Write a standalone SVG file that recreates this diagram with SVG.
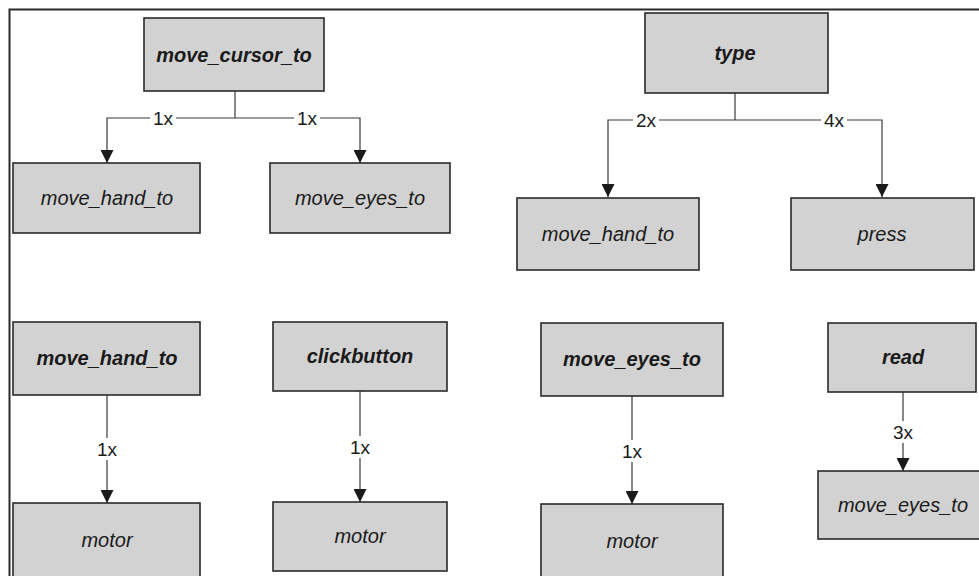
<svg xmlns="http://www.w3.org/2000/svg" width="979" height="576" viewBox="0 0 979 576">
<style>
.box{fill:#d2d2d2;stroke:#2a2a2a;stroke-width:1.6}
.t{font-family:"Liberation Sans",Arial,sans-serif;font-size:20px;font-style:italic;fill:#1a1a1a;text-anchor:middle}
.b{font-weight:bold}
.con{fill:none;stroke:#3a3a3a;stroke-width:1.2}
.lbl{font-family:"Liberation Sans",Arial,sans-serif;font-size:19px;fill:#1a1a1a;text-anchor:middle}
.bg{fill:#ffffff}
</style>
<defs>
<marker id="arr" viewBox="0 0 10 10" refX="10" refY="5" markerWidth="14" markerHeight="13" markerUnits="userSpaceOnUse" orient="auto">
<path d="M0,0 L10,5 L0,10 z" fill="#1a1a1a"/>
</marker>
</defs>
<rect x="0" y="0" width="979" height="576" fill="#ffffff"/>
<path d="M9.5,580 V9.5 H985" fill="none" stroke="#2a2a2a" stroke-width="2"/>

<g id="connectors">
<path class="con" d="M235,91 V118"/>
<path class="con" d="M235,118 H107 V163" marker-end="url(#arr)"/>
<path class="con" d="M235,118 H360 V163" marker-end="url(#arr)"/>
<path class="con" d="M735,93 V120"/>
<path class="con" d="M735,120 H608 V197" marker-end="url(#arr)"/>
<path class="con" d="M735,120 H882 V197" marker-end="url(#arr)"/>
<path class="con" d="M107,395 V503" marker-end="url(#arr)"/>
<path class="con" d="M360,391 V502" marker-end="url(#arr)"/>
<path class="con" d="M632,396 V504" marker-end="url(#arr)"/>
<path class="con" d="M903,392 V471" marker-end="url(#arr)"/>
<rect class="bg" x="150" y="110" width="26" height="16"/>
<text class="lbl" x="163" y="125">1x</text>
<rect class="bg" x="294" y="110" width="26" height="16"/>
<text class="lbl" x="307" y="125">1x</text>
<rect class="bg" x="633" y="112" width="26" height="16"/>
<text class="lbl" x="646" y="127">2x</text>
<rect class="bg" x="821" y="112" width="26" height="16"/>
<text class="lbl" x="834" y="127">4x</text>
<rect class="bg" x="94" y="438" width="26" height="22"/>
<text class="lbl" x="107" y="456">1x</text>
<rect class="bg" x="347" y="436" width="26" height="22"/>
<text class="lbl" x="360" y="454">1x</text>
<rect class="bg" x="619" y="440" width="26" height="22"/>
<text class="lbl" x="632" y="458">1x</text>
<rect class="bg" x="890" y="421" width="26" height="22"/>
<text class="lbl" x="903" y="439">3x</text>
</g>

<g id="n_move_cursor_to"><rect class="box" x="144" y="18" width="180" height="73"/><text class="t b" x="234" y="62">move_cursor_to</text></g>
<g id="n_move_hand_to_1"><rect class="box" x="13" y="163" width="187" height="70"/><text class="t" x="107" y="205">move_hand_to</text></g>
<g id="n_move_eyes_to_1"><rect class="box" x="270" y="163" width="180" height="70"/><text class="t" x="360" y="205">move_eyes_to</text></g>
<g id="n_type"><rect class="box" x="645" y="13" width="183" height="80"/><text class="t b" x="735" y="60">type</text></g>
<g id="n_move_hand_to_2"><rect class="box" x="517" y="198" width="182" height="72"/><text class="t" x="608" y="241">move_hand_to</text></g>
<g id="n_press"><rect class="box" x="791" y="198" width="183" height="72"/><text class="t" x="882" y="241">press</text></g>

<g id="n_move_hand_to_3"><rect class="box" x="13" y="322" width="187" height="73"/><text class="t b" x="107" y="365">move_hand_to</text></g>
<g id="n_motor_1"><rect class="box" x="13" y="503" width="187" height="80"/><text class="t" x="107" y="547">motor</text></g>
<g id="n_clickbutton"><rect class="box" x="273" y="322" width="174" height="69"/><text class="t b" x="360" y="363">clickbutton</text></g>
<g id="n_motor_2"><rect class="box" x="273" y="502" width="174" height="69"/><text class="t" x="360" y="543">motor</text></g>
<g id="n_move_eyes_to_2"><rect class="box" x="541" y="323" width="182" height="73"/><text class="t b" x="632" y="366">move_eyes_to</text></g>
<g id="n_motor_3"><rect class="box" x="541" y="504" width="182" height="80"/><text class="t" x="632" y="548">motor</text></g>
<g id="n_read"><rect class="box" x="828" y="323" width="148" height="69"/><text class="t b" x="903" y="364">read</text></g>
<g id="n_move_eyes_to_3"><rect class="box" x="818" y="471" width="170" height="68"/><text class="t" x="903" y="512">move_eyes_to</text></g>
</svg>
